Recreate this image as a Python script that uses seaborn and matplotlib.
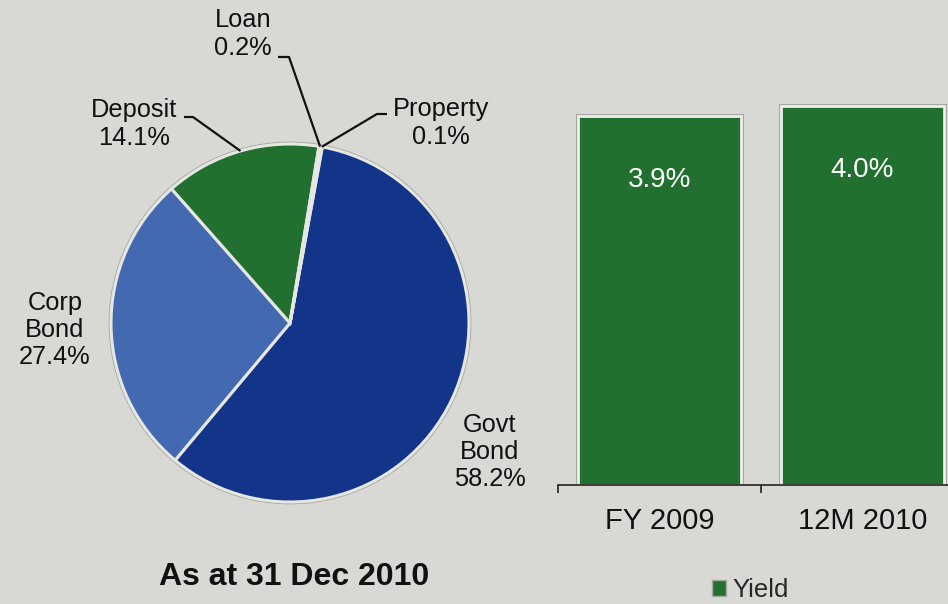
import math

import matplotlib
matplotlib.use("Agg")
import matplotlib.pyplot as plt
import matplotlib.patheffects as pe
from matplotlib.patches import Circle, Patch
import pandas as pd
import seaborn as sns

# Asset allocation as at 31 Dec 2010
asset_classes = ["Govt\nBond", "Corp\nBond", "Deposit", "Loan", "Property"]
asset_shares = [58.2, 27.4, 14.1, 0.2, 0.1]
asset_colors = ["#123489", "#436ab1", "#217030", "#7f9fd6", "#b9b9b5"]

# Investment yield
periods = ["FY 2009", "12M 2010"]
yields = [3.9, 4.0]
bar_color = "#217030"

bg = "#d8d8d4"
sns.set_style("white", {"axes.facecolor": bg, "figure.facecolor": bg})
plt.rcParams["font.family"] = ["Liberation Sans", "DejaVu Sans"]

W, H = 948, 604
fig = plt.figure(figsize=(W / 100, H / 100), dpi=100, facecolor=bg)

# ---- pie: axes spans the left part, 1 data unit == R pixels ----
CX, CY, R = 290, 323, 179
AXW = 545
ax_pie = fig.add_axes([0, 0, AXW / W, 1])


def to_data(x, y):
    return ((x - CX) / R, (CY - y) / R)


wedges, _ = ax_pie.pie(
    asset_shares,
    colors=asset_colors,
    startangle=79.6,
    counterclock=False,
    radius=1,
    wedgeprops=dict(edgecolor="#e6e6e2", linewidth=2.2),
)
ax_pie.add_patch(Circle((0, 0), 1.0, fill=False, edgecolor="#a6a6a2",
                        linewidth=3.4, zorder=0.5))
ax_pie.set_aspect("auto")
ax_pie.set_xlim((0 - CX) / R, (AXW - CX) / R)
ax_pie.set_ylim((CY - H) / R, CY / R)
ax_pie.set_axis_off()

label_pos = {
    "Govt\nBond": (490, 452),
    "Corp\nBond": (55, 330),
    "Deposit": (134.5, 124),
    "Loan": (243, 34),
    "Property": (441, 123),
}
leaders = {
    "Deposit": [(184, 117), (193, 117)],
    "Loan": [(278, 57), (289, 57)],
    "Property": [(387, 114), (377, 114)],
}

for name, share, w in zip(asset_classes, asset_shares, wedges):
    x, y = to_data(*label_pos[name])
    ax_pie.text(x, y, f"{name}\n{share:.1f}%", ha="center", va="center",
                fontsize=18.3, linespacing=1.17, color="#111111")
    if name in leaders:
        ang = math.radians((w.theta1 + w.theta2) / 2)
        pts = [to_data(*p) for p in leaders[name]]
        pts.append((math.cos(ang), math.sin(ang)))
        ax_pie.plot([p[0] for p in pts], [p[1] for p in pts],
                    color="#111111", linewidth=1.6, zorder=3,
                    solid_capstyle="butt")

fig.text(294 / W, (H - 585) / H, "As at 31 Dec 2010", ha="center",
         va="baseline", fontsize=23, fontweight="bold", color="#111111")

# ---- yield bars ----
K = 94.7  # pixels per percentage point
YMAX = 4.2
ax_bar = fig.add_axes([558 / W, (H - 485) / H, 406 / W, YMAX * K / H])
df = pd.DataFrame({"period": periods, "yield": yields})
sns.barplot(data=df, x="period", y="yield", ax=ax_bar, color=bar_color,
            saturation=1, width=0.8, edgecolor="#eeeeea", linewidth=2)
for patch in ax_bar.patches:
    patch.set_path_effects([pe.Stroke(linewidth=3.6, foreground="#a6a6a2"),
                            pe.Normal()])

for i, v in enumerate(yields):
    ax_bar.annotate(f"{v:.1f}%", xy=(i, v), xytext=(0, -64),
                    textcoords="offset pixels", ha="center", va="center",
                    color="white", fontsize=20)

ax_bar.set_xlim(-0.5, 1.5)
ax_bar.set_ylim(0, YMAX)
ax_bar.set_facecolor("none")
for s in ("left", "right", "top"):
    ax_bar.spines[s].set_visible(False)
ax_bar.spines["bottom"].set_color("#222222")
ax_bar.spines["bottom"].set_linewidth(1.2)
ax_bar.set_yticks([])
ax_bar.set_xticks([-0.5, 0.5, 1.5], labels=["", "", ""])
ax_bar.set_xticks([0, 1], labels=periods, minor=True)
ax_bar.tick_params(axis="x", which="major", length=6, width=1.2,
                   direction="out", color="#222222", bottom=True)
ax_bar.tick_params(axis="x", which="minor", length=0, pad=16,
                   labelsize=21, labelcolor="#111111", bottom=True)
ax_bar.set_xlabel("")
ax_bar.set_ylabel("")

fig.legend(handles=[Patch(facecolor=bar_color, edgecolor="#a6a6a2",
                          label="Yield")],
           loc="center", bbox_to_anchor=(750 / W, 14 / H), frameon=False,
           fontsize=18.5, handlelength=0.55, handleheight=0.55,
           handletextpad=0.25, borderpad=0, borderaxespad=0)

fig.savefig("out.png", dpi=100, facecolor=bg)
